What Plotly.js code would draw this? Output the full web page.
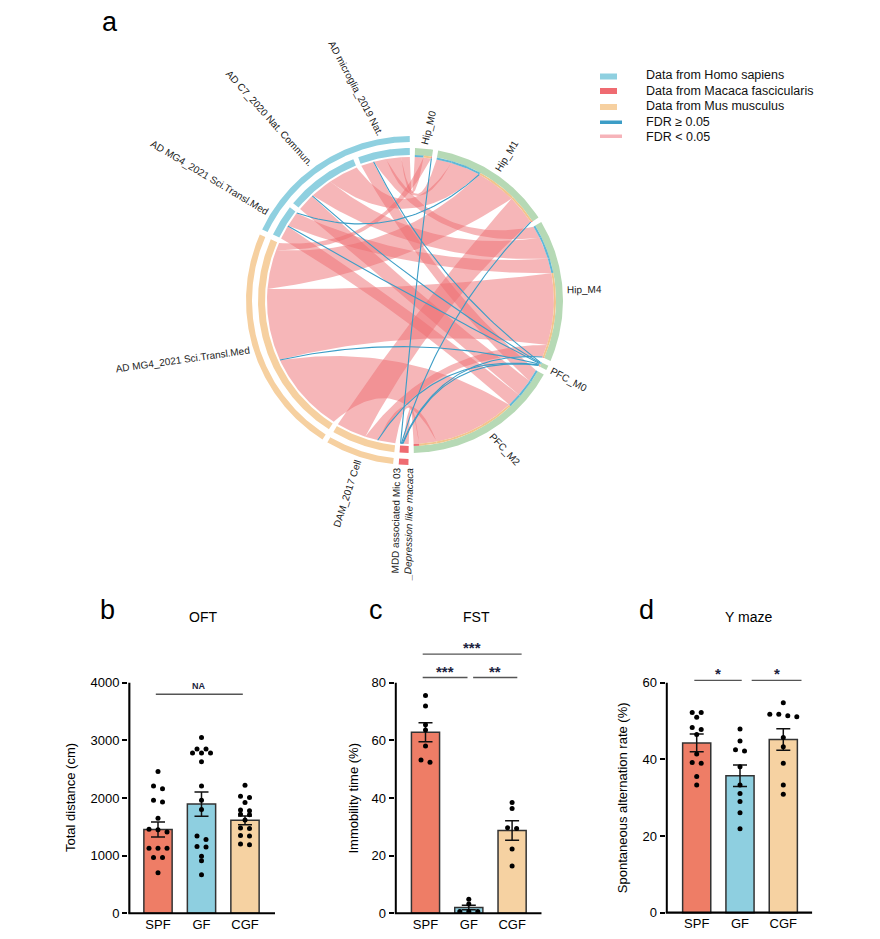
<!DOCTYPE html>
<html>
<head>
<meta charset="utf-8">
<script src="https://cdn.plot.ly/plotly-3.0.1.min.js"></script>
<style>html,body{margin:0;padding:0;background:#fff;}#fig{width:880px;height:939px;}</style>
</head>
<body>
<div id="fig"></div>
<script>
// ================= Panel a : chord diagram data =================
const sectors = ["Hip_M0","Hip_M1","Hip_M4","PFC_M0","PFC_M2","MDD_Mic03","DAM_2017","AD_MG4_mouse","AD_MG4_human","AD_C7_2020","AD_microglia_2019"];
const sectorLabels = ["Hip_M0","Hip_M1","Hip_M4","PFC_M0","PFC_M2",
  "MDD associated Mic 03<br><i>_Depression like macaca</i>",
  "DAM_2017 Cell","AD MG4_2021 Sci.Transl.Med","AD MG4_2021 Sci.Transl.Med",
  "AD C7_2020 Nat. Commun.","AD microglia_2019 Nat."];
const sectorSpecies = ["module","module","module","module","module","Macaca fascicularis","Mus musculus","Mus musculus","Homo sapiens","Homo sapiens","Homo sapiens"];
const sectorStudyGroup = ["","","","","","MDD","DAM","MG4_mouse","AD_human","AD_human","AD_human"];

const linkSource = ["AD_microglia_2019","AD_microglia_2019","AD_microglia_2019","AD_microglia_2019","AD_microglia_2019",
  "AD_C7_2020","AD_C7_2020","AD_C7_2020","AD_C7_2020",
  "AD_MG4_human","AD_MG4_human","AD_MG4_human","AD_MG4_human",
  "AD_MG4_mouse","AD_MG4_mouse","AD_MG4_mouse","AD_MG4_mouse","AD_MG4_mouse",
  "DAM_2017","DAM_2017","DAM_2017","DAM_2017",
  "MDD_Mic03","MDD_Mic03","MDD_Mic03","MDD_Mic03","MDD_Mic03"];
const linkTarget = ["PFC_M2","PFC_M0","Hip_M4","Hip_M1","Hip_M0",
  "PFC_M2","PFC_M0","Hip_M4","Hip_M1",
  "PFC_M2","PFC_M0","Hip_M4","Hip_M1",
  "PFC_M2","PFC_M0","Hip_M4","Hip_M1","Hip_M0",
  "PFC_M2","PFC_M0","Hip_M4","Hip_M1",
  "PFC_M2","PFC_M0","Hip_M4","Hip_M1","Hip_M0"];
const linkValue = [5,0.3,5,6,3.5, 7,0.3,9,12, 5.5,0.3,6,0.3, 33,0.3,29,16,3, 7,0.3,5,12, 2.2,0.3,0.3,0.3,0.3];
const linkFDR = ["<0.05",">=0.05","<0.05","<0.05","<0.05",
  "<0.05",">=0.05","<0.05","<0.05",
  "<0.05",">=0.05","<0.05",">=0.05",
  "<0.05",">=0.05","<0.05","<0.05","<0.05",
  "<0.05",">=0.05","<0.05","<0.05",
  "<0.05",">=0.05",">=0.05",">=0.05",">=0.05"];

// ================= Panels b-d data =================
const groups = ["SPF","GF","CGF"];
const oftMean = [1455, 1895, 1612];
const oftSEM  = [130, 210, 75];
const oftSPF = [2460,2210,2160,1960,1930,1650,1460,1450,1410,1130,1130,1130,970,970,705];
const oftGF  = [3050,2850,2850,2780,2780,2780,2630,2210,1960,1800,1340,1280,1160,1150,990,910,670];
const oftCGF = [2220,2030,2010,1920,1790,1780,1720,1710,1620,1480,1470,1350,1340,1200,1190];
const oftTicks = [0,1000,2000,3000,4000];

const fstMean = [62.8, 2.0, 28.7];
const fstSEM  = [3.3, 0.8, 3.4];
const fstSPF = [75.6,71.9,65.4,63.6,58.0,53.2,52.4];
const fstGF  = [4.9,3.2,0.6,0.6,0.6];
const fstCGF = [38.4,36.4,29.7,29.4,22.3,16.4];
const fstTicks = [0,20,40,60,80];

const ymMean = [44.3, 35.7, 45.2];
const ymSEM  = [2.3, 2.8, 2.8];
const ymSPF = [52.2,52.2,51.0,48.3,47.8,46.5,41.4,39.2,39.0,35.5,33.3];
const ymGF  = [47.9,44.8,42.5,42.2,38.1,33.3,31.1,29.0,26.1,21.9];
const ymCGF = [54.8,51.8,51.8,51.4,51.1,45.7,43.3,39.0,33.3,30.9];
const ymTicks = [0,20,40,60];

const oftSig = [{a:-0.05,b:1.95,y:3800,t:"NA"}];
const fstSig = [{a:-0.065,b:0.97,y:81.8,t:"***"},{a:1.10,b:2.12,y:81.8,t:"**"},{a:-0.065,b:2.22,y:89.9,t:"***"}];
const ymSig  = [{a:-0.055,b:1.04,y:60.6,t:"*"},{a:1.27,b:2.42,y:60.6,t:"*"}];

// ================= styling =================
const W = 880, H = 939;
const FONT = '"Liberation Sans", Arial, sans-serif';
const speciesColor = {"Homo sapiens":"#8fd0e0","Macaca fascicularis":"#ef6b71","Mus musculus":"#f6d0a0","module":"#b6d9b5"};
const propColor = {"Homo sapiens":"#62b8d6","Macaca fascicularis":"#ee6e73","Mus musculus":"#f2c48c"};
const barColors = ["#ee7d66","#8ecfe0","#f6d2a2"];
// text rotation of each sector label (degrees, as drawn in the figure)
const labelAngleStyle = [-76,-58,-1,28,47,-89,-72,-8,31,48,62];

const traces = [], shapes = [], annotations = [];

// ================= chord geometry =================
const R = 143.5, TR_IN = 145.5, TR_OUT = 152.5, OUT_IN = 158.5, OUT_OUT = 164.5;
const START = 1.7;
function P(r, d){ const t = d*Math.PI/180; return [r*Math.sin(t), r*Math.cos(t)]; }
function arc(r, d1, d2){ const n = Math.max(2, Math.ceil(Math.abs(d2-d1)/0.5)+1); const o=[]; for(let k=0;k<n;k++){ o.push(P(r, d1+(d2-d1)*k/(n-1))); } return o; }
function bez(p0, p2){ const c=[(p0[0]+p2[0])*0.25,(p0[1]+p2[1])*0.25]; const o=[]; for(let k=0;k<=48;k++){ const t=k/48,u=1-t; o.push([u*u*p0[0]+2*u*t*c[0]+t*t*p2[0], u*u*p0[1]+2*u*t*c[1]+t*t*p2[1]]); } return o; }
function poly(pts, color){ const xs=pts.map(p=>p[0]), ys=pts.map(p=>p[1]); xs.push(xs[0]); ys.push(ys[0]);
  traces.push({type:'scatter',mode:'lines',x:xs,y:ys,fill:'toself',fillcolor:color,line:{width:0,color:color},xaxis:'x4',yaxis:'y4',hoverinfo:'skip',showlegend:false}); }
function ann(r1, r2, d1, d2, color){ poly([...arc(r2,d1,d2), ...arc(r1,d2,d1)], color); }

const nS = sectors.length;
const totals = sectors.map(s => linkValue.reduce((a,v,i)=> a + ((linkSource[i]===s||linkTarget[i]===s)?v:0), 0));
const gap = (360 - totals.reduce((a,b)=>a+b,0))/nS;
const secStart=[], secEnd=[]; let cur = START;
for(let i=0;i<nS;i++){ secStart.push(cur); cur += totals[i]; secEnd.push(cur); cur += gap; }
const secMid = secStart.map((s,i)=>(s+secEnd[i])/2);

const linkPos = linkValue.map(()=>({}));
sectors.forEach((s,si)=>{
  const inc=[];
  linkValue.forEach((v,li)=>{
    if(linkSource[li]===s) inc.push({li:li,end:'src',other:sectors.indexOf(linkTarget[li])});
    else if(linkTarget[li]===s) inc.push({li:li,end:'tgt',other:sectors.indexOf(linkSource[li])});
  });
  inc.forEach(o=>{ o.rel = ((secMid[o.other]-secMid[si])%360+360)%360; });
  inc.sort((a,b)=>b.rel-a.rel);
  let c = secStart[si];
  inc.forEach(o=>{ const v=linkValue[o.li]; linkPos[o.li][o.end]=[c,c+v]; c+=v; });
});

// tracks
sectors.forEach((s,i)=>{ ann(TR_IN, TR_OUT, secStart[i], secEnd[i], speciesColor[sectorSpecies[i]]); });
const studyGroups = [...new Set(sectorStudyGroup.filter(g=>g))];
studyGroups.forEach(g=>{
  const idx = sectorStudyGroup.map((x,i)=>x===g?i:-1).filter(i=>i>=0);
  const a = Math.min(...idx.map(i=>secStart[i])), b = Math.max(...idx.map(i=>secEnd[i]));
  ann(OUT_IN, OUT_OUT, a, b, speciesColor[sectorSpecies[idx[0]]]);
});
// ribbons (FDR < 0.05)
linkValue.forEach((v,li)=>{
  if(linkFDR[li] !== "<0.05") return;
  const [a1,a2] = linkPos[li].src, [b1,b2] = linkPos[li].tgt;
  poly([...arc(R,a1,a2), ...bez(P(R,a2),P(R,b1)), ...arc(R,b1,b2), ...bez(P(R,b2),P(R,a1))], 'rgba(238,110,114,0.5)');
});
// target proportion bars on module side
linkValue.forEach((v,li)=>{
  const [b1,b2] = linkPos[li].tgt;
  ann(R, TR_IN, b1, b2, propColor[sectorSpecies[sectors.indexOf(linkSource[li])]]);
});
// thin links (FDR >= 0.05)
linkValue.forEach((v,li)=>{
  if(linkFDR[li] !== ">=0.05") return;
  const a=linkPos[li].src, b=linkPos[li].tgt;
  const pts = bez(P(R,(a[0]+a[1])/2), P(R,(b[0]+b[1])/2));
  traces.push({type:'scatter',mode:'lines',x:pts.map(p=>p[0]),y:pts.map(p=>p[1]),line:{color:'#3c9dc6',width:1.1},xaxis:'x4',yaxis:'y4',hoverinfo:'skip',showlegend:false});
});

// labels
const ctx = document.createElement('canvas').getContext('2d');
function textW(line){ const it = /<i>/.test(line); ctx.font = (it?'italic ':'') + '10px "Liberation Sans", Arial'; return ctx.measureText(line.replace(/<[^>]+>/g,'')).width; }
sectors.forEach((s,i)=>{
  const lines = sectorLabels[i].split('<br>');
  const w = Math.max(...lines.map(textW));
  const r0 = sectorSpecies[i]==='module' ? 157 : 168;
  const m = secMid[i];
  const anchor = P(r0, m);
  const a = labelAngleStyle[i]*Math.PI/180;
  const dir = [Math.cos(a), -Math.sin(a)];          // reading direction in data (y up) units
  const sgn = m < 180 ? 1 : -1;                      // right half reads outward, left half reads inward
  const c = [anchor[0] + sgn*dir[0]*w/2, anchor[1] + sgn*dir[1]*w/2];
  annotations.push({xref:'x4',yref:'y4',x:c[0],y:c[1],text:sectorLabels[i],showarrow:false,textangle:labelAngleStyle[i],
    xanchor:'center',yanchor:'middle',align: m<180?'left':'right',font:{family:FONT,size:10,color:'#222'}});
});

// ================= legend (panel a) =================
const legendItems = [
  {t:"Data from Homo sapiens", c:"#8fd0e0", y0:73.5, y1:79.5, x1:617},
  {t:"Data from Macaca fascicularis", c:"#ef6b71", y0:88, y1:94, x1:617},
  {t:"Data from Mus musculus", c:"#f6d0a0", y0:104, y1:110, x1:617},
  {t:"FDR ≥ 0.05", c:"#3c9dc6", y0:120.5, y1:124, x1:622},
  {t:"FDR &lt; 0.05", c:"#f6b3b9", y0:134.5, y1:138, x1:622}
];
const legendTextY = [75.5, 90.5, 106.5, 122, 137];
legendItems.forEach((it,i)=>{
  shapes.push({type:'rect',xref:'paper',yref:'paper',x0:600/W,x1:it.x1/W,y0:1-it.y1/H,y1:1-it.y0/H,fillcolor:it.c,line:{width:0}});
  annotations.push({xref:'paper',yref:'paper',x:645/W,y:1-legendTextY[i]/H,text:it.t,showarrow:false,xanchor:'left',yanchor:'middle',borderpad:0,font:{family:FONT,size:12.5,color:'#111'}});
});

// ================= bar panels =================
function swarm(vals, k, dc){
  const s=[...vals].sort((a,b)=>b-a); const out=[]; let i=0;
  while(i<s.length){ let j=i; while(j+1<s.length && (s[i]-s[j+1])*k < 3.8) j++;
    const n=j-i+1; for(let m=0;m<n;m++) out.push({y:s[i+m], dx:(m-(n-1)/2)*9/dc}); i=j+1; }
  return out;
}
const layout = {width:W,height:H,margin:{l:0,r:0,t:0,b:0},paper_bgcolor:'#fff',plot_bgcolor:'rgba(0,0,0,0)',showlegend:false,
  xaxis4:{domain:[80/W,740/W],range:[80-410.5,740-410.5],visible:false,fixedrange:true},
  yaxis4:{domain:[1-590/H,1-15/H],range:[-(590-300.5),300.5-15],visible:false,fixedrange:true}};

function panel(n, g, means, sems, pts, ticks, yTitle, title, letter, letterX, sig){
  const xa = n===1?'x':'x'+n, ya = n===1?'y':'y'+n;
  const xk = n===1?'xaxis':'xaxis'+n, yk = n===1?'yaxis':'yaxis'+n;
  const r0 = (g.xL-1.2-g.xc0)/g.dc, r1 = (g.xR-g.xc0)/g.dc;
  const yTopVal = (g.y0-g.top)/g.k;
  layout[xk] = {domain:[(g.xL-1.2)/W, g.xR/W], range:[r0,r1], anchor:ya, tickvals:[0,1,2], ticktext:groups, ticks:'',
    showline:false, showgrid:false, zeroline:false, tickfont:{family:FONT,size:13,color:'#000'}, fixedrange:true};
  layout[yk] = {domain:[1-(g.y0+1.2)/H, 1-g.top/H], range:[-1.2/g.k, yTopVal], anchor:xa, tickvals:ticks, ticktext:ticks.map(String),
    ticks:'outside', ticklen:5, tickwidth:2.2, tickcolor:'#000', showline:false, showgrid:false, zeroline:false,
    tickfont:{family:FONT,size:13,color:'#000'}, fixedrange:true};
  traces.push({type:'bar',x:[0,1,2],y:means,width:0.65,xaxis:xa,yaxis:ya,
    marker:{color:barColors,line:{color:'#333',width:1.5}},
    error_y:{type:'data',array:sems,visible:true,color:'#111',thickness:1.5,width:7},hoverinfo:'skip'});
  const px=[], py=[];
  pts.forEach((vals,gi)=>{ swarm(vals,g.k,g.dc).forEach(p=>{ px.push(gi+p.dx); py.push(p.y); }); });
  traces.push({type:'scatter',mode:'markers',x:px,y:py,xaxis:xa,yaxis:ya,cliponaxis:false,
    marker:{size:5,color:'#000'},hoverinfo:'skip'});
  const xLine = (g.xL-g.xc0)/g.dc, maxTick = ticks[ticks.length-1];
  shapes.push({type:'line',xref:xa,yref:ya,x0:xLine,x1:xLine,y0:0,y1:maxTick,line:{color:'#000',width:2.2}});
  shapes.push({type:'line',xref:xa,yref:ya,x0:(g.xL-1.1-g.xc0)/g.dc,x1:r1,y0:0,y1:0,line:{color:'#000',width:2.2}});
  sig.forEach(s=>{
    shapes.push({type:'line',xref:xa,yref:ya,x0:s.a,x1:s.b,y0:s.y,y1:s.y,line:{color:'#555',width:1.3}});
    const isNA = s.t==="NA";
    annotations.push({xref:xa,yref:ya,x:(s.a+s.b)/2,y:s.y,text:isNA?"<b>NA</b>":"<b>"+s.t+"</b>",showarrow:false,xanchor:'center',yanchor:'bottom',
      yshift:isNA?1:-4,font:{family:FONT,size:isNA?9:15,color:'#1c2340'}});
  });
  const yc = 1 - ((g.y0 + (g.y0 - maxTick*g.k))/2)/H;
  annotations.push({xref:'paper',yref:'paper',x:g.titleX/W,y:yc,text:yTitle,textangle:-90,showarrow:false,xanchor:'center',yanchor:'middle',font:{family:FONT,size:13,color:'#000'}});
  annotations.push({xref:'paper',yref:'paper',x:g.headX/W,y:1-617/H,text:title,showarrow:false,xanchor:'center',yanchor:'middle',font:{family:FONT,size:14,color:'#000'}});
  annotations.push({xref:'paper',yref:'paper',x:letterX/W,y:1-610/H,text:letter,showarrow:false,xanchor:'center',yanchor:'middle',font:{family:FONT,size:27,color:'#000'}});
}

panel(1,{xL:129.3,xR:275,xc0:158,dc:43.5,y0:913.3,k:230.6/4000,top:640,titleX:70,headX:203},oftMean,oftSEM,[oftSPF,oftGF,oftCGF],oftTicks,"Total distance (cm)","OFT","b",107,oftSig);
panel(2,{xL:395.7,xR:541.7,xc0:425.5,dc:43.3,y0:913.3,k:230.6/80,top:640,titleX:352.5,headX:477},fstMean,fstSEM,[fstSPF,fstGF,fstCGF],fstTicks,"Immobility time (%)","FST","c",376,fstSig);
panel(3,{xL:666.7,xR:812.3,xc0:696.7,dc:43.3,y0:912.7,k:230/60,top:640,titleX:622.5,headX:748},ymMean,ymSEM,[ymSPF,ymGF,ymCGF],ymTicks,"Spontaneous alternation rate (%)","Y maze","d",646,ymSig);

annotations.push({xref:'paper',yref:'paper',x:110/W,y:1-22/H,text:"a",showarrow:false,xanchor:'center',yanchor:'middle',font:{family:FONT,size:27,color:'#000'}});

layout.shapes = shapes;
layout.annotations = annotations;
Plotly.newPlot('fig', traces, layout, {displayModeBar:false, staticPlot:true});
</script>
</body>
</html>
